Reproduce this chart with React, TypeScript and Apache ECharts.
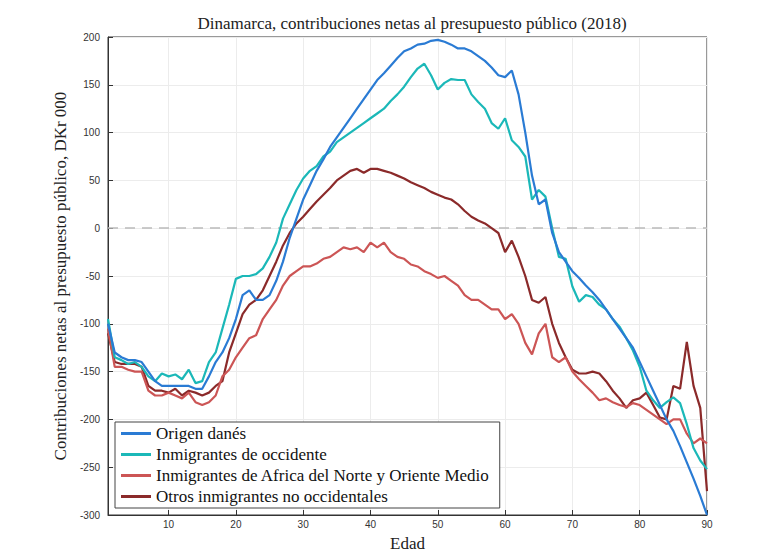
import React, { useEffect, useRef } from "react";
import * as echarts from "echarts";

const ages = Array.from({ length: 90 }, (_, i) => i + 1);
const xTicks = [10, 20, 30, 40, 50, 60, 70, 80, 90];

const danes = [-100, -130, -135, -138, -138, -140, -150, -160, -165, -165, -165, -165, -165, -168, -168, -155, -140, -130, -115, -95, -70, -65, -75, -75, -70, -55, -35, -10, 10, 30, 45, 60, 72, 85, 95, 105, 115, 125, 135, 145, 155, 162, 170, 178, 185, 188, 192, 193, 196, 197, 195, 192, 188, 188, 185, 180, 175, 168, 160, 158, 165, 140, 100, 55, 25, 30, -5, -25, -35, -45, -52, -60, -67, -75, -85, -95, -105, -115, -125, -140, -155, -170, -185, -200, -212, -228, -245, -262, -280, -300];
const occidente = [-95, -135, -138, -142, -140, -145, -155, -160, -152, -155, -153, -158, -148, -162, -160, -140, -130, -105, -80, -53, -50, -50, -48, -42, -30, -15, 10, 25, 40, 52, 60, 65, 75, 80, 90, 95, 100, 105, 110, 115, 120, 125, 133, 140, 148, 158, 167, 172, 160, 145, 152, 156, 155, 155, 140, 132, 125, 110, 104, 115, 92, 85, 75, 30, 40, 33, 0, -30, -32, -61, -77, -70, -72, -80, -85, -95, -103, -115, -128, -145, -170, -180, -188, -182, -177, -183, -205, -230, -243, -252];
const africa = [-105, -145, -145, -148, -150, -150, -170, -175, -175, -172, -175, -178, -172, -182, -185, -182, -175, -155, -148, -135, -125, -115, -112, -95, -85, -75, -60, -50, -45, -40, -40, -37, -32, -30, -25, -20, -22, -20, -25, -15, -20, -15, -25, -30, -32, -38, -40, -45, -48, -52, -50, -55, -60, -70, -75, -75, -80, -85, -85, -95, -90, -100, -120, -132, -110, -100, -135, -140, -135, -150, -158, -165, -172, -180, -178, -182, -185, -187, -183, -185, -190, -195, -200, -205, -200, -200, -215, -225, -220, -225];
const otros = [-110, -140, -142, -142, -142, -145, -165, -170, -170, -172, -168, -175, -170, -172, -175, -172, -165, -160, -130, -110, -90, -80, -75, -65, -50, -35, -18, -5, 5, 12, 20, 28, 35, 42, 50, 55, 60, 62, 58, 62, 62, 60, 58, 55, 52, 48, 45, 42, 38, 35, 32, 30, 25, 18, 12, 8, 5, 0, -5, -25, -13, -30, -50, -75, -78, -72, -100, -120, -135, -148, -152, -152, -150, -152, -160, -170, -178, -188, -180, -178, -172, -185, -198, -200, -165, -168, -119, -165, -188, -275];

const names = [
  "Origen danés",
  "Inmigrantes de occidente",
  "Inmigrantes de Africa del Norte y Oriente Medio",
  "Otros inmigrantes no occidentales",
];
const colors = ["#2a7bd4", "#1bb8b8", "#cc5555", "#8b2a2a"];
const seriesData = [danes, occidente, africa, otros];

const serif = "'Liberation Serif', 'DejaVu Serif', serif";

const App: React.FC = () => {
  const ref = useRef<HTMLDivElement>(null);

  useEffect(() => {
    if (!ref.current) return;
    const chart = echarts.init(ref.current, undefined, { renderer: "svg" });
    chart.setOption({
      animation: false,
      backgroundColor: "#fff",
      title: {
        text: "Dinamarca, contribuciones netas al presupuesto público (2018)",
        left: 399,
        textAlign: "center",
        top: 2,
        textStyle: { fontFamily: serif, fontWeight: "normal", fontSize: 17, color: "#222" },
      },
      grid: {
        left: 100,
        right: 53,
        top: 29,
        bottom: 38,
        containLabel: false,
        outerBoundsMode: "none",
        show: true,
        borderColor: "#333",
        borderWidth: 1,
      },
      xAxis: {
        type: "value",
        min: 1,
        max: 90,
        name: "Edad",
        nameLocation: "middle",
        nameGap: 20,
        nameTextStyle: { fontFamily: serif, fontSize: 17, color: "#222" },
        axisLine: { onZero: false, lineStyle: { color: "#333" } },
        axisTick: { customValues: xTicks, inside: true, lineStyle: { color: "#333" } },
        axisLabel: { customValues: xTicks, color: "#333", fontSize: 10, margin: 4 },
        splitLine: { show: true, lineStyle: { color: "#ececec" } },
      },
      yAxis: {
        type: "value",
        min: -300,
        max: 200,
        interval: 50,
        name: "Contribuciones netas al presupuesto público, DKr 000",
        nameLocation: "middle",
        nameGap: 38,
        nameTextStyle: { fontFamily: serif, fontSize: 17, color: "#222" },
        axisLine: { show: true, lineStyle: { color: "#333" } },
        axisTick: { inside: true, lineStyle: { color: "#333" } },
        axisLabel: { color: "#333", fontSize: 10, margin: 8 },
        splitLine: { lineStyle: { color: "#ececec" } },
      },
      legend: {
        orient: "vertical",
        left: 107,
        top: 414,
        itemWidth: 30,
        itemHeight: 3,
        itemGap: 4,
        icon: "rect",
        textStyle: { fontFamily: serif, fontSize: 17, color: "#111" },
        backgroundColor: "#fff",
        borderColor: "#444",
        borderWidth: 1,
        padding: [3, 10, 3, 6],
        data: names,
      },
      series: seriesData.map((d, i) => ({
        name: names[i],
        type: "line",
        data: d.map((v, j) => [ages[j], v]),
        showSymbol: false,
        color: colors[i],
        lineStyle: { width: 2.2, color: colors[i] },
        z: 10 - i,
        ...(i === 0
          ? {
              markLine: {
                silent: true,
                symbol: "none",
                label: { show: false },
                lineStyle: { type: [10, 7], color: "#bbb", width: 1.5 },
                data: [{ yAxis: 0 }],
              },
            }
          : {}),
      })),
    });
    return () => chart.dispose();
  }, []);

  return <div ref={ref} style={{ width: 752, height: 545 }} />;
};

export default App;
